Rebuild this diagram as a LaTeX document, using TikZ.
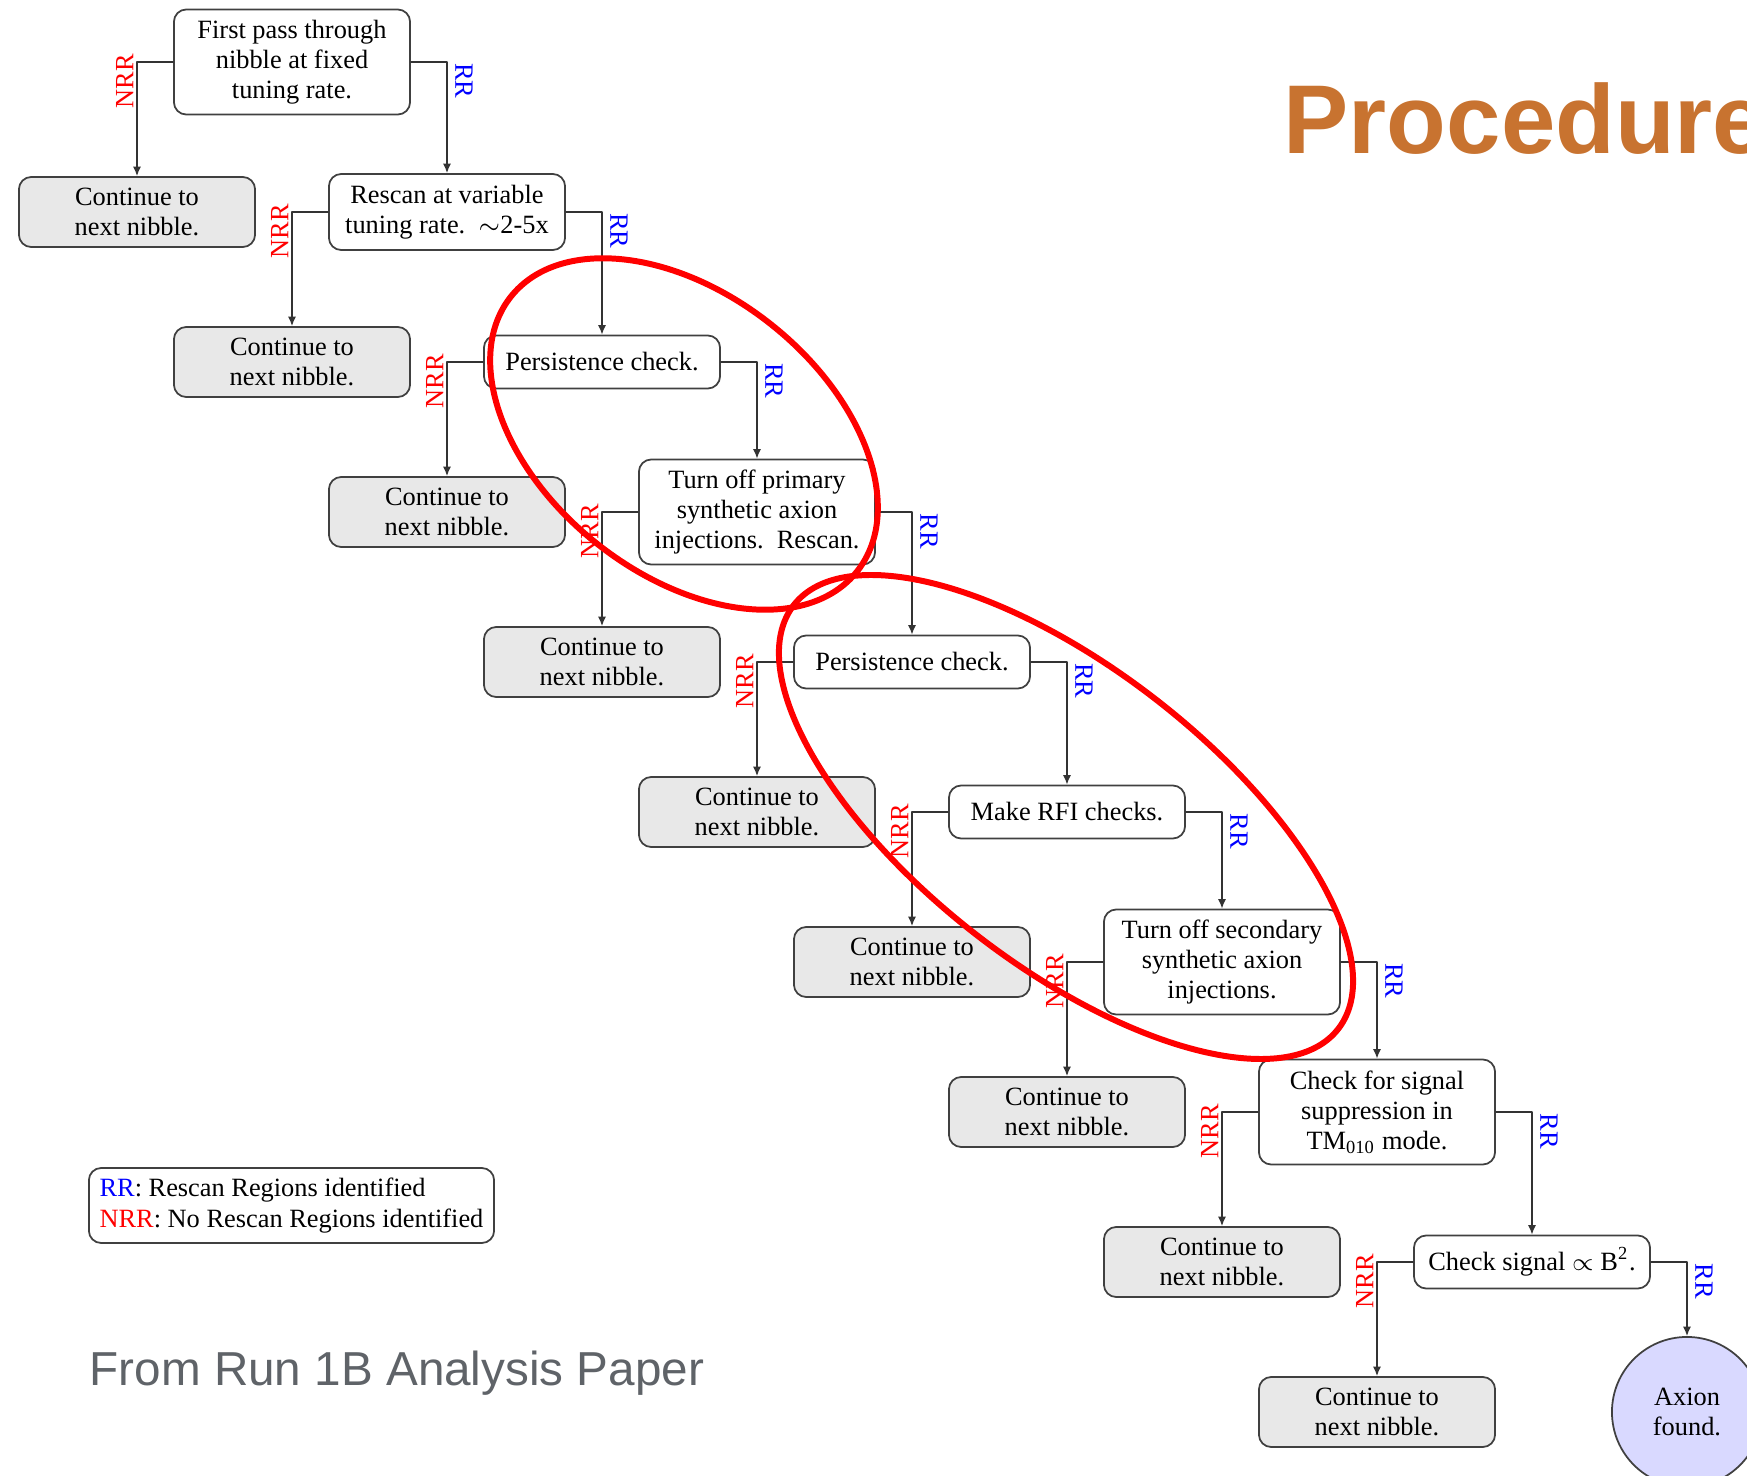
\documentclass[tikz,border=0pt]{standalone}
\usepackage{fontspec}
\setmainfont{Liberation Serif}
\newfontfamily\slidefont{Liberation Sans}
\usepackage{tikz}
\usetikzlibrary{arrows.meta,calc}
\definecolor{procorange}{RGB}{200,115,48}
\definecolor{slidegray}{RGB}{95,99,104}
\newcommand{\boxfont}{\fontsize{7.5}{8.6}\selectfont}

\begin{document}
\begin{tikzpicture}[line cap=round,line join=round,>={Latex[length=2.7pt,width=2.3pt]},x=0.01cm,y=-0.01cm,
  proc/.style={draw=black!75,line width=0.5pt,rounded corners=3.5pt,fill=white,align=center,
    minimum width=2.36cm,minimum height=0.53cm,inner sep=1pt,font=\boxfont},
  twoline/.style={proc,minimum height=0.70cm},
  threeline/.style={proc,minimum height=1.05cm},
  nextbox/.style={proc,minimum height=0.70cm,fill=black!9},
  link/.style={->,draw=black!80,line width=0.4pt},
  rr/.style={text=blue,font=\boxfont,rotate=-90,anchor=south,inner sep=2.2pt},
  nrr/.style={text=red,font=\boxfont,rotate=90,anchor=south,inner sep=0.8pt},
  ring/.style={draw=red,line width=1.7pt}]
\useasboundingbox (0,0) rectangle (1747,1476);
\clip (0,0) rectangle (1747,1476);
% rescan chain
\node[threeline] (first) at (292,62) {First pass through\\nibble at fixed\\tuning rate.};
\node[proc,minimum height=0.76cm] (rescan) at (447,212) {Rescan at variable\\tuning rate.\ \ $\sim$2-5x};
\node[proc] (persist) at (602,362) {Persistence check.};
\node[threeline] (primary) at (757,512) {Turn off primary\\synthetic axion\\injections.\ \ Rescan.};
\node[proc] (persistb) at (912,662) {Persistence check.};
\node[proc] (rfi) at (1067,812) {Make RFI checks.};
\node[threeline] (secondary) at (1222,962) {Turn off secondary\\synthetic axion\\injections.};
\node[threeline] (suppress) at (1377,1112) {Check for signal\\suppression in\\TM\textsubscript{010} mode.};
\node[proc] (bsq) at (1532,1262) {Check signal $\propto$ B\textsuperscript{2}.};
\node[circle,draw=black!75,line width=0.5pt,fill=blue!15,align=center,minimum size=1.5cm,inner sep=0pt,font=\boxfont] (axion) at (1687,1412) {Axion\\found.};
% continue boxes
\node[nextbox] (next0) at (137,212) {Continue to\\next nibble.};
\node[nextbox] (next1) at (292,362) {Continue to\\next nibble.};
\node[nextbox] (next2) at (447,512) {Continue to\\next nibble.};
\node[nextbox] (next3) at (602,662) {Continue to\\next nibble.};
\node[nextbox] (next4) at (757,812) {Continue to\\next nibble.};
\node[nextbox] (next5) at (912,962) {Continue to\\next nibble.};
\node[nextbox] (next6) at (1067,1112) {Continue to\\next nibble.};
\node[nextbox] (next7) at (1222,1262) {Continue to\\next nibble.};
\node[nextbox] (next8) at (1377,1412) {Continue to\\next nibble.};
% NRR branches
\draw[link] (first.west) -| (next0.north);
\draw[link] (rescan.west) -| (next1.north);
\draw[link] (persist.west) -| (next2.north);
\draw[link] (primary.west) -| (next3.north);
\draw[link] (persistb.west) -| (next4.north);
\draw[link] (rfi.west) -| (next5.north);
\draw[link] (secondary.west) -| (next6.north);
\draw[link] (suppress.west) -| (next7.north);
\draw[link] (bsq.west) -| (next8.north);
\node[nrr] at ($(first.west -| next0.north)+(0,19)$) {NRR};
\node[nrr] at ($(rescan.west -| next1.north)+(0,19)$) {NRR};
\node[nrr] at ($(persist.west -| next2.north)+(0,19)$) {NRR};
\node[nrr] at ($(primary.west -| next3.north)+(0,19)$) {NRR};
\node[nrr] at ($(persistb.west -| next4.north)+(0,19)$) {NRR};
\node[nrr] at ($(rfi.west -| next5.north)+(0,19)$) {NRR};
\node[nrr] at ($(secondary.west -| next6.north)+(0,19)$) {NRR};
\node[nrr] at ($(suppress.west -| next7.north)+(0,19)$) {NRR};
\node[nrr] at ($(bsq.west -| next8.north)+(0,19)$) {NRR};
% RR branches
\draw[link] (first.east) -| (rescan.north);
\draw[link] (rescan.east) -| (persist.north);
\draw[link] (persist.east) -| (primary.north);
\draw[link] (primary.east) -| (persistb.north);
\draw[link] (persistb.east) -| (rfi.north);
\draw[link] (rfi.east) -| (secondary.north);
\draw[link] (secondary.east) -| (suppress.north);
\draw[link] (suppress.east) -| (bsq.north);
\draw[link] (bsq.east) -| (axion.north);
\node[rr] at ($(first.east -| rescan.north)+(0,19)$) {RR};
\node[rr] at ($(rescan.east -| persist.north)+(0,19)$) {RR};
\node[rr] at ($(persist.east -| primary.north)+(0,19)$) {RR};
\node[rr] at ($(primary.east -| persistb.north)+(0,19)$) {RR};
\node[rr] at ($(persistb.east -| rfi.north)+(0,19)$) {RR};
\node[rr] at ($(rfi.east -| secondary.north)+(0,19)$) {RR};
\node[rr] at ($(secondary.east -| suppress.north)+(0,19)$) {RR};
\node[rr] at ($(suppress.east -| bsq.north)+(0,19)$) {RR};
\node[rr] at ($(bsq.east -| axion.north)+(0,19)$) {RR};
% legend and slide texts
\node[proc,align=left,minimum width=4.05cm,minimum height=0.75cm] (key) at (291.5,1205.5)
  {\textcolor{blue}{RR}: Rescan Regions identified\\\textcolor{red}{NRR}: No Rescan Regions identified};
\node[anchor=base west,inner sep=0,text=procorange,font={\slidefont\bfseries\fontsize{27.8}{30}\selectfont}] (title) at (1283,154) {Procedure};
\node[anchor=base west,inner sep=0,text=slidegray,font={\slidefont\fontsize{13.55}{16}\selectfont}] (source) at (89,1385) {From Run 1B Analysis Paper};
% hand-drawn rings
\draw[ring,rotate around={-38.4:(684,434)}] (684,434) ellipse [x radius=221,y radius=140];
\draw[ring,rotate around={-37.9:(1066,817)}] (1066,817) ellipse [x radius=345,y radius=148];
\end{tikzpicture}
\end{document}
